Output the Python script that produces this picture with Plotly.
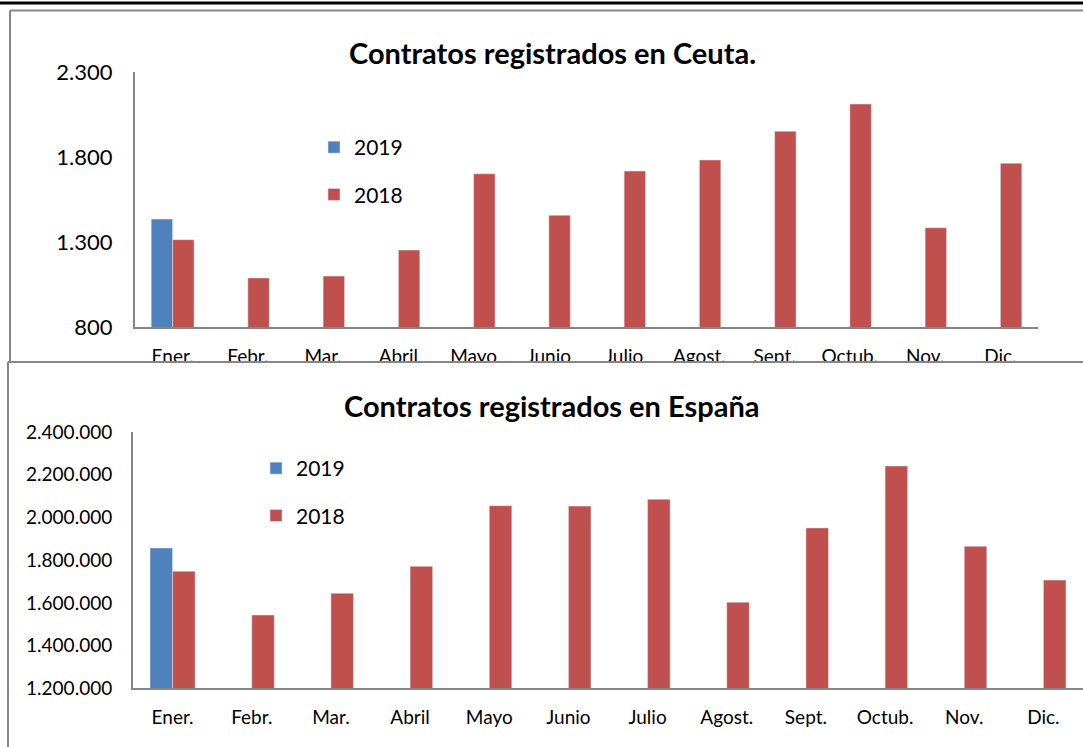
import plotly.graph_objects as go

W, H = 1083, 747

months = ["Ener.", "Febr.", "Mar.", "Abril", "Mayo", "Junio", "Julio",
          "Agost.", "Sept.", "Octub.", "Nov.", "Dic."]

ceuta_2019 = [1436, None, None, None, None, None, None, None, None, None, None, None]
ceuta_2018 = [1315, 1090, 1101, 1254, 1702, 1458, 1718, 1783, 1952, 2112, 1385, 1764]

espana_2019 = [1857000, None, None, None, None, None, None, None, None, None, None, None]
espana_2018 = [1748000, 1543000, 1645000, 1771000, 2055000, 2053000, 2085000,
               1603000, 1951000, 2241000, 1865000, 1707000]

ceuta_ticks = [800, 1300, 1800, 2300]
espana_ticks = [1200000, 1400000, 1600000, 1800000, 2000000, 2200000, 2400000]

title_ceuta = "Contratos registrados en Ceuta."
title_espana = "Contratos registrados en España"

BLUE = "#4F81BD"
RED = "#C0504D"
AXIS = "#868686"
FONT = "Lato"


def px(x):
    return x / W


def py(y):
    return 1 - y / H


fig = go.Figure()

fig.add_trace(go.Bar(x=months, y=ceuta_2019, name="2019", marker_color=BLUE,
                     xaxis="x", yaxis="y", legend="legend", legendgroup="a19"))
fig.add_trace(go.Bar(x=months, y=ceuta_2018, name="2018", marker_color=RED,
                     xaxis="x", yaxis="y", legend="legend", legendgroup="a18"))
fig.add_trace(go.Bar(x=months, y=espana_2019, name="2019", marker_color=BLUE,
                     xaxis="x2", yaxis="y2", legend="legend2", legendgroup="b19"))
fig.add_trace(go.Bar(x=months, y=espana_2018, name="2018", marker_color=RED,
                     xaxis="x2", yaxis="y2", legend="legend2", legendgroup="b18"))

axis_common = dict(showgrid=False, zeroline=False, showline=True, linecolor=AXIS,
                   linewidth=2, ticks="outside", tickcolor="rgba(0,0,0,0)",
                   automargin=False)

fig.update_layout(
    width=W, height=H,
    margin=dict(l=0, r=0, t=0, b=0, pad=0, autoexpand=False),
    paper_bgcolor="white", plot_bgcolor="white",
    separators=",.",
    barmode="group", bargap=0.43, bargroupgap=0,
    font=dict(family=FONT, color="black"),
    xaxis=dict(domain=[px(135), px(1038)], anchor="y", type="category",
               tickfont=dict(size=19), ticklen=11, **axis_common),
    yaxis=dict(domain=[py(327.3), py(72)], anchor="x", range=[800, 2300],
               tickvals=ceuta_ticks, tickformat=",d", tickfont=dict(size=22),
               ticklen=16, **axis_common),
    xaxis2=dict(domain=[px(133), 1.0], anchor="y2", type="category",
                tickfont=dict(size=19), ticklen=11, **axis_common),
    yaxis2=dict(domain=[py(688.3), py(432)], anchor="x2", range=[1200000, 2400000],
                tickvals=espana_ticks, tickformat=",d", tickfont=dict(size=19),
                ticklen=15, **axis_common),
    legend=dict(x=px(314), y=py(127), xanchor="left", yanchor="top",
                font=dict(size=21), bgcolor="rgba(0,0,0,0)",
                traceorder="grouped", tracegroupgap=17),
    legend2=dict(x=px(256), y=py(448), xanchor="left", yanchor="top",
                 font=dict(size=21), bgcolor="rgba(0,0,0,0)",
                 traceorder="grouped", tracegroupgap=17),
    showlegend=True,
)

shapes = [
    # thick black rule at the top of the page
    dict(type="line", xref="paper", yref="paper", x0=0, x1=1, y0=py(3), y1=py(3),
         line=dict(color="black", width=3), layer="above"),
    # frame of the upper chart
    dict(type="line", xref="paper", yref="paper", x0=px(10), x1=1, y0=py(10.5), y1=py(10.5),
         line=dict(color=AXIS, width=2), layer="above"),
    dict(type="line", xref="paper", yref="paper", x0=px(10), x1=px(10), y0=py(10.5), y1=py(362),
         line=dict(color=AXIS, width=2), layer="above"),
    # lower chart box covering the bottom of the upper chart's labels
    dict(type="rect", xref="paper", yref="paper", x0=px(8), x1=1.01, y0=py(385), y1=py(362),
         fillcolor="white", line=dict(width=0), layer="above"),
    dict(type="line", xref="paper", yref="paper", x0=px(8), x1=1, y0=py(362), y1=py(362),
         line=dict(color=AXIS, width=2), layer="above"),
    dict(type="line", xref="paper", yref="paper", x0=px(8), x1=px(8), y0=py(362), y1=0,
         line=dict(color=AXIS, width=2), layer="above"),
]
fig.update_layout(shapes=shapes)

fig.update_layout(annotations=[
    dict(text=title_ceuta, xref="paper", yref="paper", x=px(552), y=py(53),
         xanchor="center", yanchor="middle", showarrow=False,
         font=dict(size=29, family=FONT, color="black", weight="bold")),
    dict(text=title_espana, xref="paper", yref="paper", x=px(551), y=py(405),
         xanchor="center", yanchor="middle", showarrow=False,
         font=dict(size=29, family=FONT, color="black", weight="bold")),
])

fig.write_html("out.html",
               config={"displayModeBar": False},
               post_script="document.body.style.margin='0';document.body.style.overflow='hidden';")
